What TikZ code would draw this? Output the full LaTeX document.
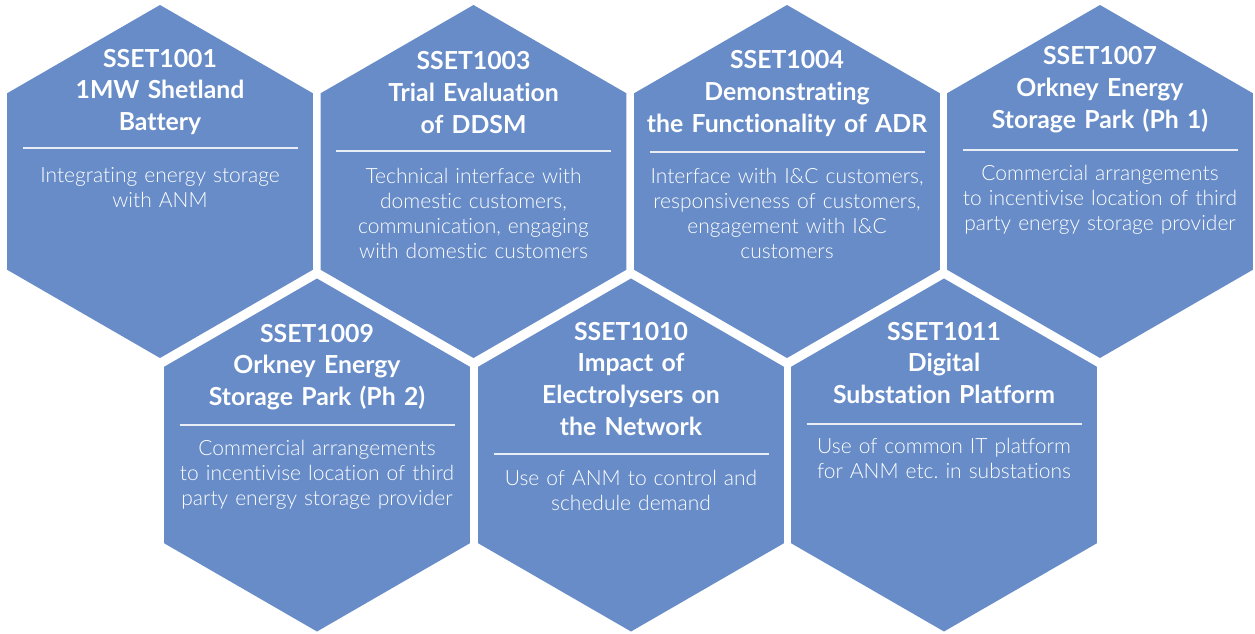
\documentclass[tikz,border=0pt]{standalone}
\usepackage{fontspec}
\setmainfont{Lato}
\newfontfamily\headfont{Lato}[UprightFont=* Bold, Ligatures=NoCommon]
\newfontfamily\bodyfont{Lato Light}[Ligatures=NoCommon]
\usetikzlibrary{shapes.geometric}
\definecolor{hexblue}{HTML}{678CC8}
\frenchspacing

\tikzset{
  hexa/.style={regular polygon, regular polygon sides=6, shape border rotate=30,
    minimum size=353pt, inner sep=0pt, outer sep=0pt, fill=hexblue, draw=none},
  headtext/.style={anchor=base, text=white, text width=300pt, align=center,
    font=\headfont\fontsize{24.8}{31.8}\selectfont},
  bodytext/.style={anchor=base, text=white, text width=300pt, align=center,
    font=\bodyfont\fontsize{21}{25.2}\selectfont},
  rule/.style={draw=white, draw opacity=0.85, line width=1.2pt}
}

\begin{document}
\begin{tikzpicture}[x=1pt,y=-1pt]
\useasboundingbox (0,0) rectangle (1255,634);

% honeycomb: four cells on top, three nested below
\node[hexa] (h1) at (160,181.5) {};
\node[hexa] (h2) at (473.5,181.5) {};
\node[hexa] (h3) at (787,181.5) {};
\node[hexa] (h4) at (1100,181.5) {};
\node[hexa] (h5) at (317,455) {};
\node[hexa] (h6) at (631,455) {};
\node[hexa] (h7) at (944,455) {};

% SSET1001
\node[headtext] (t1) at (160,67) {SSET1001\\1MW Shetland\\Battery};
\draw[rule] (22.5,148) -- ++(275,0);
\node[bodytext] (b1) at (160,182) {Integrating energy storage\\with ANM};

% SSET1003
\node[headtext] (t2) at (473.5,70) {SSET1003\\Trial Evaluation\\of DDSM};
\draw[rule] (336,151) -- ++(275,0);
\node[bodytext] (b2) at (473.5,183) {Technical interface with\\domestic customers,\\communication, engaging\\with domestic customers};

% SSET1004
\node[headtext] (t3) at (787,69) {SSET1004\\Demonstrating\\the Functionality of ADR};
\draw[rule] (649.5,152) -- ++(275,0);
\node[bodytext] (b3) at (787,183) {Interface with I\&C customers,\\responsiveness of customers,\\engagement with I\&C\\customers};

% SSET1007
\node[headtext] (t4) at (1100,65) {SSET1007\\Orkney Energy\\Storage Park (Ph 1)};
\draw[rule] (962.5,150) -- ++(275,0);
\node[bodytext] (b4) at (1100,180) {Commercial arrangements\\to incentivise location of third\\party energy storage provider};

% SSET1009
\node[headtext] (t5) at (317,342) {SSET1009\\Orkney Energy\\Storage Park (Ph 2)};
\draw[rule] (179.5,425) -- ++(275,0);
\node[bodytext] (b5) at (317,455) {Commercial arrangements\\to incentivise location of third\\party energy storage provider};

% SSET1010
\node[headtext] (t6) at (631,340) {SSET1010\\Impact of\\Electrolysers on\\the Network};
\draw[rule] (493.5,454) -- ++(275,0);
\node[bodytext] (b6) at (631,485) {Use of ANM to control and\\schedule demand};

% SSET1011
\node[headtext] (t7) at (944,340) {SSET1011\\Digital\\Substation Platform};
\draw[rule] (806.5,424) -- ++(275,0);
\node[bodytext] (b7) at (944,453) {Use of common IT platform\\for ANM etc.\ in substations};
\end{tikzpicture}
\end{document}
